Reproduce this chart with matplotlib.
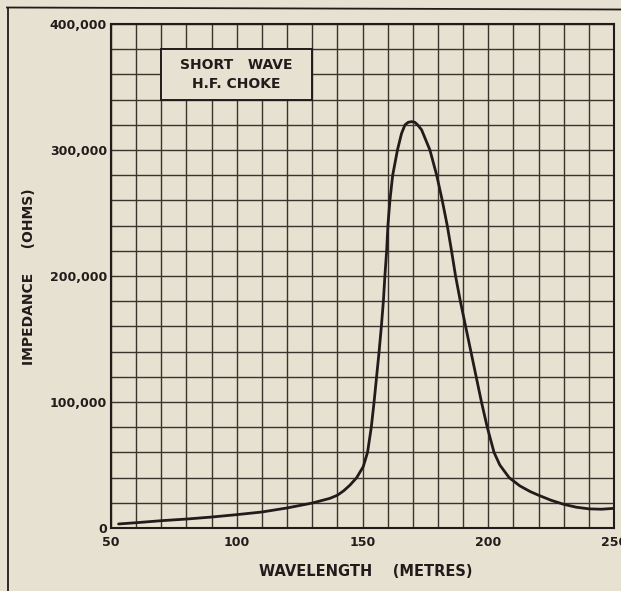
import matplotlib
matplotlib.use("Agg")
import matplotlib.pyplot as plt
from matplotlib.patches import Rectangle
from matplotlib.lines import Line2D
import numpy as np

# ---- data ----
wavelength = [53, 60, 70, 80, 90, 100, 110, 120, 130, 137, 140, 142.5, 145, 147.7,
              150.3, 152, 153.5, 154.6, 155.6, 156.6, 157.5, 158.3, 158.9, 159.6,
              160.1, 160.9, 162.0, 163.9, 165.5, 166.9, 168.2, 169.5, 170.8, 171.9,
              173.5, 176.8, 179.5, 181.7, 183.7, 185.4, 187.0, 188.9, 191.0, 193.1,
              195.2, 197.3, 199.6, 202.3, 204.6, 208.3, 212.5, 216.6, 220, 225, 230,
              235, 240, 245, 250]
impedance = [3200, 4200, 5800, 7100, 8700, 10600, 12700, 15900, 19800, 23500, 26000,
             29500, 34000, 40000, 48700, 60000, 80000, 100000, 120000, 140000, 160000,
             180000, 200000, 220000, 240000, 260000, 280000, 300000, 313000, 320000,
             322000, 322500, 322000, 320000, 316000, 300000, 280000, 260000, 240000,
             220000, 200000, 180000, 160000, 140000, 120000, 100000, 80000, 60000,
             50000, 40000, 33500, 29000, 26000, 22000, 18800, 16500, 15200, 14900,
             15600]

x_ticks = [50, 100, 150, 200, 250]
x_tick_labels = ["50", "100", "150", "200", "250"]
y_ticks = [0, 100000, 200000, 300000, 400000]
y_tick_labels = ["0", "100,000", "200,000", "300,000", "400,000"]
x_minor_step = 10
y_minor_step = 20000

title_lines = ["SHORT   WAVE", "H.F. CHOKE"]
x_label = "WAVELENGTH    (METRES)"
y_label = "IMPEDANCE     (OHMS)"

# ---- styling ----
BG = "#e7e1d1"
INK = "#221b1b"
GRID = "#3d332c"

plt.rcParams['font.family'] = ['DejaVu Sans']

W, H = 621, 591
fig = plt.figure(figsize=(W / 100, H / 100), dpi=100, facecolor=BG)
ax = fig.add_axes([111 / W, 1 - 528 / H, 503 / W, 504 / H])
ax.set_facecolor(BG)

ax.set_xlim(x_ticks[0], x_ticks[-1])
ax.set_ylim(y_ticks[0], y_ticks[-1])

ax.set_xticks(x_ticks)
ax.set_xticklabels(x_tick_labels, fontweight='bold')
ax.set_yticks(y_ticks)
ax.set_yticklabels(y_tick_labels, fontweight='bold')
ax.set_xticks(np.arange(x_ticks[0], x_ticks[-1] + 1, x_minor_step), minor=True)
ax.set_yticks(np.arange(y_ticks[0], y_ticks[-1] + 1, y_minor_step), minor=True)

ax.grid(which='both', color=GRID, linewidth=1.0)
ax.set_axisbelow(True)
ax.tick_params(which='both', length=0)
ax.tick_params(axis='x', pad=6, labelsize=9, labelcolor=INK)
ax.tick_params(axis='y', pad=3, labelsize=9, labelcolor=INK)
for sp in ax.spines.values():
    sp.set_color(INK)
    sp.set_linewidth(1.5)

# title box (annotation aligned to the grid)
ax.add_patch(Rectangle((70, 340000), 60, 40000, facecolor=BG, edgecolor=INK,
                       linewidth=1.4, zorder=3))
ax.text(100, 367500, title_lines[0], ha='center', va='center', fontsize=10,
        fontweight='bold', color=INK, zorder=4)
ax.text(100, 352500, title_lines[1], ha='center', va='center', fontsize=10,
        fontweight='bold', color=INK, zorder=4)

ax.plot(wavelength, impedance, color=INK, linewidth=2.0, zorder=5,
        solid_capstyle='round', solid_joinstyle='round')

fig.text(366 / W, 1 - 572 / H, x_label, ha='center', va='center', fontsize=10.5,
         fontweight='bold', color=INK)
fig.text(29 / W, 1 - 277 / H, y_label, ha='center', va='center', fontsize=10,
         fontweight='bold', rotation=90, color=INK)

# page border lines of the scan
fig.add_artist(Line2D([7 / W, 1.0], [1 - 7.5 / H, 1 - 9.5 / H], color=INK,
                      linewidth=1.3, transform=fig.transFigure))
fig.add_artist(Line2D([7.5 / W, 7.5 / W], [1 - 7.5 / H, 0.0], color=INK,
                      linewidth=1.3, transform=fig.transFigure))

fig.savefig("out.png", dpi=100, facecolor=BG)
